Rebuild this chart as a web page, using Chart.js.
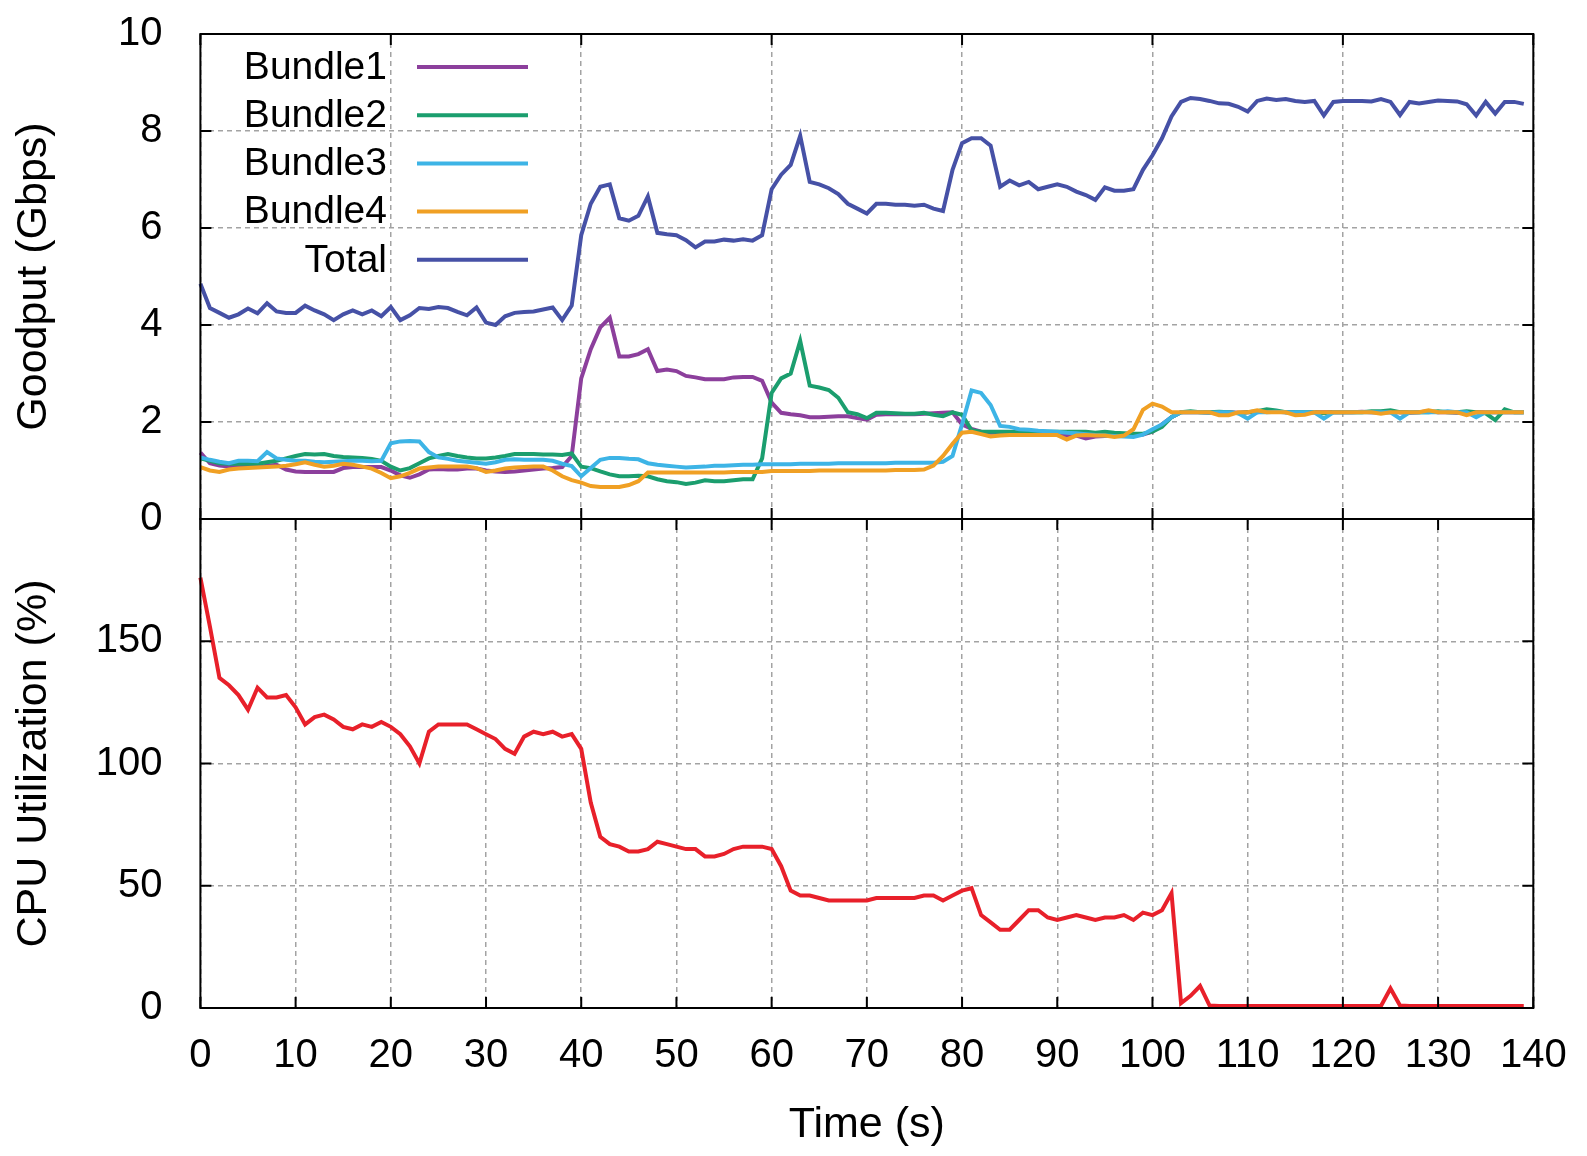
<!DOCTYPE html>
<html>
<head>
<meta charset="utf-8">
<title>Goodput and CPU utilization</title>
<script src="https://cdn.jsdelivr.net/npm/chart.js@4.4.1/dist/chart.umd.min.js"></script>
<style>
  html, body { margin: 0; padding: 0; background: #fff; }
  #wrap { position: relative; width: 1587px; height: 1156px; }
  #wrap canvas { position: absolute; left: 0; top: 0; }
</style>
</head>
<body>
<div id="wrap">
  <canvas id="cpuChart" width="1587" height="1156"></canvas>
  <canvas id="goodputChart" width="1587" height="1156"></canvas>
</div>
<script>
// one sample per second, t = 0 .. 139
const seconds = Array.from({ length: 140 }, (_, i) => i);

const bundle1 = [
  1.37,1.15,1.1,1.08,1.08,1.07,1.07,1.1,1.12,1.02,
  0.98,0.97,0.97,0.97,0.97,1.05,1.07,1.07,1.07,1.07,
  1.0,0.9,0.85,0.92,1.02,1.03,1.02,1.02,1.04,1.04,
  1.0,0.98,0.97,0.98,1.0,1.02,1.04,1.05,1.07,1.3,
  2.9,3.5,3.95,4.15,3.35,3.35,3.4,3.5,3.05,3.08,
  3.05,2.95,2.92,2.88,2.88,2.88,2.92,2.93,2.93,2.85,
  2.4,2.19,2.16,2.14,2.1,2.1,2.11,2.12,2.12,2.08,
  2.05,2.15,2.16,2.16,2.16,2.16,2.17,2.18,2.19,2.2,
  1.95,1.86,1.8,1.78,1.78,1.77,1.76,1.76,1.75,1.75,
  1.74,1.73,1.72,1.66,1.7,1.71,1.71,1.72,1.72,1.74,
  1.8,1.95,2.1,2.2,2.2,2.2,2.19,2.2,2.2,2.19,
  2.2,2.2,2.22,2.21,2.2,2.2,2.19,2.2,2.2,2.2,
  2.2,2.2,2.21,2.2,2.2,2.2,2.2,2.19,2.2,2.22,
  2.2,2.2,2.19,2.2,2.2,2.2,2.2,2.2,2.2,2.2
];

const bundle2 = [
  1.25,1.2,1.15,1.14,1.14,1.14,1.14,1.17,1.2,1.25,
  1.3,1.34,1.33,1.34,1.3,1.28,1.27,1.26,1.24,1.2,
  1.08,1.0,1.05,1.15,1.25,1.3,1.34,1.3,1.27,1.25,
  1.25,1.27,1.3,1.34,1.34,1.34,1.33,1.33,1.32,1.35,
  1.08,1.05,0.98,0.92,0.88,0.88,0.89,0.88,0.82,0.78,
  0.76,0.72,0.75,0.8,0.78,0.78,0.8,0.82,0.82,1.25,
  2.6,2.9,3.0,3.67,2.75,2.71,2.66,2.5,2.2,2.16,
  2.08,2.19,2.19,2.18,2.17,2.17,2.19,2.15,2.12,2.2,
  2.15,1.83,1.8,1.8,1.8,1.8,1.79,1.8,1.8,1.8,
  1.8,1.8,1.8,1.8,1.78,1.8,1.78,1.77,1.76,1.76,
  1.8,1.9,2.1,2.2,2.22,2.2,2.2,2.21,2.2,2.18,
  2.2,2.22,2.26,2.24,2.2,2.2,2.2,2.2,2.18,2.2,
  2.2,2.2,2.2,2.22,2.22,2.24,2.2,2.2,2.2,2.2,
  2.22,2.2,2.2,2.22,2.2,2.18,2.04,2.26,2.2,2.2
];

const bundle3 = [
  1.27,1.22,1.18,1.15,1.2,1.2,1.19,1.38,1.25,1.22,
  1.2,1.2,1.18,1.17,1.18,1.19,1.2,1.2,1.19,1.2,
  1.56,1.6,1.61,1.6,1.38,1.27,1.24,1.2,1.18,1.16,
  1.14,1.17,1.22,1.23,1.22,1.22,1.22,1.2,1.14,1.09,
  0.88,1.05,1.22,1.26,1.26,1.24,1.23,1.15,1.12,1.1,
  1.08,1.06,1.07,1.08,1.1,1.1,1.11,1.12,1.12,1.13,
  1.13,1.13,1.13,1.14,1.14,1.14,1.14,1.15,1.15,1.15,
  1.15,1.15,1.15,1.16,1.16,1.16,1.16,1.16,1.18,1.3,
  1.95,2.65,2.6,2.35,1.92,1.9,1.85,1.84,1.82,1.81,
  1.8,1.78,1.77,1.75,1.73,1.72,1.71,1.7,1.69,1.74,
  1.85,1.95,2.1,2.2,2.2,2.2,2.19,2.2,2.2,2.18,
  2.07,2.2,2.2,2.21,2.2,2.2,2.2,2.2,2.07,2.2,
  2.2,2.2,2.2,2.2,2.2,2.2,2.07,2.2,2.2,2.2,
  2.2,2.22,2.2,2.2,2.1,2.2,2.2,2.2,2.2,2.2
];

const bundle4 = [
  1.07,1.0,0.97,1.02,1.04,1.05,1.06,1.07,1.08,1.1,
  1.13,1.17,1.12,1.08,1.1,1.14,1.12,1.08,1.04,0.95,
  0.84,0.88,0.95,1.04,1.06,1.08,1.08,1.08,1.08,1.05,
  0.97,1.0,1.04,1.06,1.07,1.08,1.08,1.0,0.88,0.8,
  0.75,0.68,0.66,0.66,0.66,0.7,0.78,0.96,0.96,0.96,
  0.96,0.96,0.96,0.96,0.96,0.96,0.97,0.97,0.97,0.97,
  0.99,0.99,0.99,0.99,0.99,1.0,1.0,1.0,1.0,1.0,
  1.0,1.0,1.0,1.01,1.01,1.01,1.02,1.1,1.3,1.55,
  1.78,1.8,1.75,1.7,1.72,1.73,1.73,1.73,1.73,1.73,
  1.73,1.64,1.72,1.73,1.72,1.72,1.69,1.72,1.85,2.25,
  2.38,2.32,2.2,2.2,2.2,2.2,2.2,2.14,2.14,2.2,
  2.2,2.24,2.2,2.2,2.2,2.14,2.15,2.2,2.2,2.2,
  2.2,2.2,2.2,2.2,2.17,2.2,2.2,2.2,2.2,2.24,
  2.2,2.2,2.2,2.14,2.2,2.2,2.2,2.2,2.2,2.2
];

const total = [
  4.85,4.35,4.25,4.15,4.22,4.34,4.24,4.45,4.28,4.25,
  4.25,4.4,4.3,4.22,4.1,4.22,4.3,4.22,4.3,4.18,
  4.37,4.1,4.2,4.35,4.33,4.37,4.35,4.27,4.2,4.36,
  4.05,4.0,4.18,4.25,4.27,4.28,4.32,4.36,4.1,4.4,
  5.85,6.5,6.85,6.9,6.2,6.15,6.25,6.65,5.9,5.87,
  5.85,5.75,5.6,5.72,5.72,5.76,5.74,5.77,5.74,5.85,
  6.8,7.1,7.3,7.9,6.95,6.9,6.82,6.7,6.5,6.4,
  6.3,6.5,6.5,6.48,6.48,6.46,6.48,6.4,6.35,7.2,
  7.75,7.85,7.85,7.7,6.85,6.98,6.88,6.95,6.8,6.85,
  6.9,6.85,6.75,6.68,6.58,6.84,6.77,6.77,6.8,7.2,
  7.5,7.85,8.3,8.6,8.68,8.66,8.62,8.57,8.56,8.5,
  8.4,8.62,8.67,8.64,8.66,8.62,8.6,8.62,8.32,8.6,
  8.62,8.62,8.62,8.61,8.66,8.6,8.33,8.6,8.57,8.6,
  8.63,8.62,8.61,8.55,8.32,8.6,8.36,8.6,8.6,8.56
];

const cpu = [
  176,156,135,132,128,122,131,127,127,128,
  123,116,119,120,118,115,114,116,115,117,
  115,112,107,100,113,116,116,116,116,114,
  112,110,106,104,111,113,112,113,111,112,
  106,84,70,67,66,64,64,65,68,67,
  66,65,65,62,62,63,65,66,66,66,
  65,58,48,46,46,45,44,44,44,44,
  44,45,45,45,45,45,46,46,44,46,
  48,49,38,35,32,32,36,40,40,37,
  36,37,38,37,36,37,37,38,36,39,
  38,40,47,2,5,9,1,0.8,0.8,0.8,
  0.8,0.8,0.8,0.8,0.8,0.8,0.8,0.8,0.8,0.8,
  0.8,0.8,0.8,0.8,0.8,8,1,0.8,0.8,0.8,
  0.8,0.8,0.8,0.8,0.8,0.8,0.8,0.8,0.8,0.8
];

const timeTicks = [0,10,20,30,40,50,60,70,80,90,100,110,120,130,140];
const timeTicksTop = [0,20,40,60,80,100,120,140];
const goodputTicks = [0,2,4,6,8,10];
const cpuTicks = [0,50,100,150];

const FONT_FAMILY = '"Liberation Sans", Arial, Helvetica, sans-serif';
const TICK_FONT = { family: FONT_FAMILY, size: 40 };
const TITLE_FONT = { family: FONT_FAMILY, size: 43 };
const KEY_FONT_SIZE = 39;
const GRID = { color: '#a3a3a3', lineWidth: 1.5, drawTicks: false };
const DASH = { display: false, dash: [5, 4] };

const points = (vals) => seconds.map((t, i) => ({ x: t, y: vals[i] }));
const setTicks = (arr) => (scale) => { scale.ticks = arr.map(v => ({ value: v })); };

// fixed axis sizes, and no extra room asked for by the end labels
const fixWidth = (w) => (scale) => { scale.width = w; scale.paddingTop = 0; scale.paddingBottom = 0; };
const fixHeight = (h) => (scale) => { scale.height = h; scale.paddingLeft = 0; scale.paddingRight = 0; };

// black box round the plot area plus gnuplot style inward tick marks
const framePlugin = {
  id: 'frame',
  afterDraw(chart) {
    const { ctx, chartArea: a, scales } = chart;
    ctx.save();
    ctx.strokeStyle = '#000';
    ctx.lineWidth = 2;
    ctx.strokeRect(a.left, a.top, a.right - a.left, a.bottom - a.top);
    ctx.beginPath();
    scales.x.ticks.forEach(t => {
      const px = scales.x.getPixelForValue(t.value);
      ctx.moveTo(px, a.bottom); ctx.lineTo(px, a.bottom - 11);
      ctx.moveTo(px, a.top); ctx.lineTo(px, a.top + 11);
    });
    scales.y.ticks.forEach(t => {
      const py = scales.y.getPixelForValue(t.value);
      ctx.moveTo(a.left, py); ctx.lineTo(a.left + 11, py);
      ctx.moveTo(a.right, py); ctx.lineTo(a.right - 11, py);
    });
    ctx.stroke();
    ctx.restore();
  }
};

// legend inside the top panel: label on the left, line sample on the right
const keyPlugin = {
  id: 'key',
  afterDraw(chart) {
    const ctx = chart.ctx;
    ctx.save();
    ctx.font = KEY_FONT_SIZE + 'px ' + FONT_FAMILY;
    ctx.textAlign = 'right';
    ctx.textBaseline = 'middle';
    chart.data.datasets.forEach((ds, i) => {
      const y = 67 + i * 48.2;
      ctx.fillStyle = '#000';
      ctx.fillText(ds.label, 387, y + 1);
      ctx.strokeStyle = ds.borderColor;
      ctx.lineWidth = 4;
      ctx.beginPath();
      ctx.moveTo(417, y);
      ctx.lineTo(528, y);
      ctx.stroke();
    });
    ctx.restore();
  }
};

function line(label, vals, color, order) {
  return {
    label: label,
    data: points(vals),
    borderColor: color,
    backgroundColor: color,
    borderWidth: 4,
    pointRadius: 0,
    tension: 0,
    fill: false,
    order: order,
    clip: 6
  };
}

new Chart(document.getElementById('goodputChart'), {
  type: 'line',
  data: {
    datasets: [
      line('Bundle1', bundle1, '#8c3f9c', 5),
      line('Bundle2', bundle2, '#1b9e6e', 4),
      line('Bundle3', bundle3, '#3db4e6', 3),
      line('Bundle4', bundle4, '#f0a024', 2),
      line('Total', total, '#4651a6', 1)
    ]
  },
  options: {
    responsive: false,
    animation: false,
    devicePixelRatio: 1,
    layout: { padding: { left: 0, right: 53.7, top: 34, bottom: 637 } },
    plugins: { legend: { display: false }, tooltip: { enabled: false } },
    scales: {
      x: {
        type: 'linear', min: 0, max: 140,
        afterBuildTicks: setTicks(timeTicksTop),
        afterFit: fixHeight(0),
        ticks: { display: false },
        grid: GRID,
        border: DASH
      },
      y: {
        min: 0, max: 10,
        afterBuildTicks: setTicks(goodputTicks),
        afterFit: fixWidth(200.4),
        ticks: { font: TICK_FONT, color: '#000', padding: 38 },
        grid: GRID,
        border: DASH,
        title: { display: true, text: 'Goodput (Gbps)', font: TITLE_FONT, color: '#000', padding: { top: 8 } }
      }
    }
  },
  plugins: [framePlugin, keyPlugin]
});

new Chart(document.getElementById('cpuChart'), {
  type: 'line',
  data: {
    datasets: [line('CPU', cpu, '#e8202a', 1)]
  },
  options: {
    responsive: false,
    animation: false,
    devicePixelRatio: 1,
    layout: { padding: { left: 0, right: 53.7, top: 519, bottom: 0 } },
    plugins: { legend: { display: false }, tooltip: { enabled: false } },
    scales: {
      x: {
        type: 'linear', min: 0, max: 140,
        afterBuildTicks: setTicks(timeTicks),
        afterFit: fixHeight(148),
        ticks: { font: TICK_FONT, color: '#000', padding: 24, maxRotation: 0 },
        grid: GRID,
        border: DASH,
        title: { display: true, text: 'Time (s)', font: TITLE_FONT, color: '#000', padding: { bottom: 5 } }
      },
      y: {
        min: 0, max: 200,
        afterBuildTicks: setTicks(cpuTicks),
        afterFit: fixWidth(200.4),
        ticks: { font: TICK_FONT, color: '#000', padding: 38 },
        grid: GRID,
        border: DASH,
        title: { display: true, text: 'CPU Utilization (%)', font: TITLE_FONT, color: '#000', padding: { top: 8 } }
      }
    }
  },
  plugins: [framePlugin]
});
</script>
</body>
</html>
